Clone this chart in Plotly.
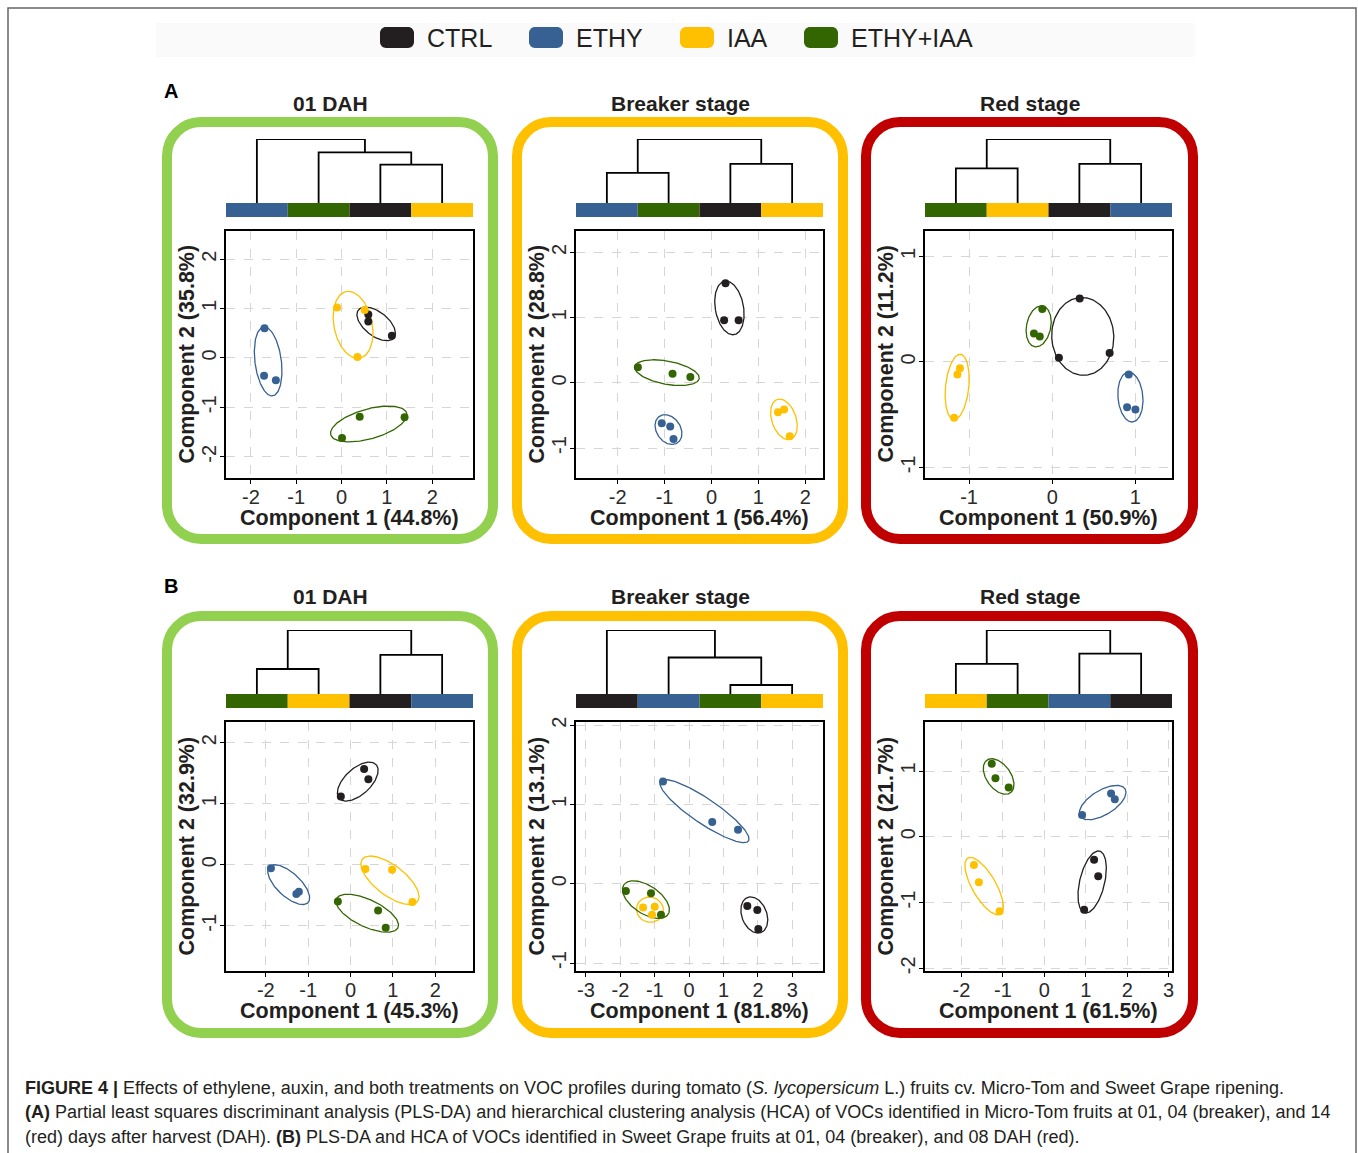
import numpy as np
import plotly.graph_objects as go

W, H = 1358, 1153
FONT = "Liberation Sans, Arial, sans-serif"

GROUPS = ["CTRL", "ETHY", "IAA", "ETHY+IAA"]
GROUP_COLORS = ["#231F20", "#386193", "#FFC000", "#336600"]
COL = dict(zip(GROUPS, GROUP_COLORS))

# ---------------- PLS-DA scores (Component 1 / Component 2) ----------------
A1_PC1 = {"CTRL": [0.59, 0.59, 1.11], "ETHY": [-1.70, -1.71, -1.45], "IAA": [-0.10, 0.51, 0.35], "ETHY+IAA": [0.01, 0.40, 1.39]}
A1_PC2 = {"CTRL": [0.88, 0.74, 0.45], "ETHY": [0.60, -0.36, -0.45], "IAA": [1.02, 0.97, 0.02], "ETHY+IAA": [-1.62, -1.19, -1.20]}

A2_PC1 = {"CTRL": [0.30, 0.27, 0.58], "ETHY": [-1.06, -0.88, -0.81], "IAA": [1.42, 1.55, 1.67], "ETHY+IAA": [-1.57, -0.83, -0.45]}
A2_PC2 = {"CTRL": [1.53, 0.96, 0.96], "ETHY": [-0.62, -0.67, -0.86], "IAA": [-0.45, -0.41, -0.82], "ETHY+IAA": [0.24, 0.14, 0.09]}

A3_PC1 = {"CTRL": [0.33, 0.08, 0.69], "ETHY": [0.92, 0.90, 1.00], "IAA": [-1.11, -1.14, -1.18], "ETHY+IAA": [-0.12, -0.22, -0.15]}
A3_PC2 = {"CTRL": [0.60, 0.04, 0.085], "ETHY": [-0.12, -0.43, -0.45], "IAA": [-0.06, -0.12, -0.53], "ETHY+IAA": [0.50, 0.27, 0.24]}

B1_PC1 = {"CTRL": [-0.23, 0.32, 0.42], "ETHY": [-1.88, -1.28, -1.22], "IAA": [0.35, 0.98, 1.46], "ETHY+IAA": [-0.30, 0.65, 0.83]}
B1_PC2 = {"CTRL": [1.12, 1.57, 1.40], "ETHY": [-0.055, -0.48, -0.44], "IAA": [-0.07, -0.08, -0.61], "ETHY+IAA": [-0.60, -0.75, -1.03]}

B2_PC1 = {"CTRL": [1.69, 1.98, 2.01], "ETHY": [-0.76, 0.67, 1.42], "IAA": [-1.34, -1.00, -1.08], "ETHY+IAA": [-1.84, -1.11, -0.82]}
B2_PC2 = {"CTRL": [-0.28, -0.33, -0.57], "ETHY": [1.29, 0.78, 0.68], "IAA": [-0.30, -0.29, -0.39], "ETHY+IAA": [-0.09, -0.12, -0.39]}

B3_PC1 = {"CTRL": [1.20, 1.30, 0.96], "ETHY": [0.91, 1.61, 1.70], "IAA": [-1.70, -1.58, -1.08], "ETHY+IAA": [-1.27, -1.18, -0.86]}
B3_PC2 = {"CTRL": [-0.35, -0.60, -1.11], "ETHY": [0.33, 0.66, 0.57], "IAA": [-0.43, -0.69, -1.13], "ETHY+IAA": [1.11, 0.89, 0.75]}

# explained variance (%)
PC1_VAR = {"A1": 44.8, "A2": 56.4, "A3": 50.9, "B1": 45.3, "B2": 81.8, "B3": 61.5}
PC2_VAR = {"A1": 35.8, "A2": 28.8, "A3": 11.2, "B1": 32.9, "B2": 13.1, "B3": 21.7}

# ---------------- HCA dendrograms (leaf order + merges: i, j, height) -------
A1_LEAVES = ["ETHY", "ETHY+IAA", "CTRL", "IAA"]
A1_MERGES = [(2, 3, 0.60), (1, 4, 0.79), (0, 5, 1.0)]
A2_LEAVES = ["ETHY", "ETHY+IAA", "CTRL", "IAA"]
A2_MERGES = [(0, 1, 0.47), (2, 3, 0.61), (4, 5, 1.0)]
A3_LEAVES = ["ETHY+IAA", "IAA", "CTRL", "ETHY"]
A3_MERGES = [(0, 1, 0.54), (2, 3, 0.61), (4, 5, 1.0)]
B1_LEAVES = ["ETHY+IAA", "IAA", "CTRL", "ETHY"]
B1_MERGES = [(0, 1, 0.39), (2, 3, 0.61), (4, 5, 1.0)]
B2_LEAVES = ["CTRL", "ETHY", "ETHY+IAA", "IAA"]
B2_MERGES = [(2, 3, 0.14), (1, 4, 0.57), (0, 5, 1.0)]
B3_LEAVES = ["IAA", "ETHY+IAA", "ETHY", "CTRL"]
B3_MERGES = [(0, 1, 0.47), (2, 3, 0.63), (4, 5, 1.0)]

STAGE_TITLES = ["01 DAH", "Breaker stage", "Red stage"]
STAGE_BORDER = ["#92D050", "#FFC000", "#C00000"]

# ---------------- layout (pixels) ----------------
PLOT_L = [226, 576, 925]
PLOT_W = 247
ROWS = {
    "A": dict(plot=(231, 478), dendro=(139, 217), border=(122, 539), title=103, xtitle=518, letter=91),
    "B": dict(plot=(722, 971), dendro=(630, 708), border=(616, 1033), title=596, xtitle=1011, letter=586),
}
BORDER_X = [(167, 493), (517, 843), (866, 1193)]

PANELS = [
    ("A", 0, "A1", A1_PC1, A1_PC2, A1_LEAVES, A1_MERGES, [-2.55, 2.90], [-2.43, 2.57], [-2, -1, 0, 1, 2], [-2, -1, 0, 1, 2]),
    ("A", 1, "A2", A2_PC1, A2_PC2, A2_LEAVES, A2_MERGES, [-2.89, 2.38], [-1.46, 2.33], [-2, -1, 0, 1, 2], [-1, 0, 1, 2]),
    ("A", 2, "A3", A3_PC1, A3_PC2, A3_LEAVES, A3_MERGES, [-1.53, 1.44], [-1.10, 1.24], [-1, 0, 1], [-1, 0, 1]),
    ("B", 0, "B1", B1_PC1, B1_PC2, B1_LEAVES, B1_MERGES, [-2.94, 2.89], [-1.74, 2.34], [-2, -1, 0, 1, 2], [-1, 0, 1, 2]),
    ("B", 1, "B2", B2_PC1, B2_PC2, B2_LEAVES, B2_MERGES, [-3.29, 3.89], [-1.10, 2.04], [-3, -2, -1, 0, 1, 2, 3], [-1, 0, 1, 2]),
    ("B", 2, "B3", B3_PC1, B3_PC2, B3_LEAVES, B3_MERGES, [-2.88, 3.08], [-2.04, 1.745], [-2, -1, 0, 1, 2, 3], [-2, -1, 0, 1]),
]

BAR_H = 0.22


def px(x):
    return x / W


def py(y):
    return 1 - y / H


def ellipse(xs, ys, sx, sy, k=1.13, pad=105.0, n=160):
    X = np.asarray(xs) * sx
    Y = np.asarray(ys) * sy
    cov = np.cov(np.vstack([X, Y])) + pad * np.eye(2)
    vals, vecs = np.linalg.eigh(cov)
    t = np.linspace(0, 2 * np.pi, n)
    circ = np.vstack([np.cos(t), np.sin(t)])
    pts = k * (vecs @ (np.sqrt(vals)[:, None] * circ))
    return (pts[0] + X.mean()) / sx, (pts[1] + Y.mean()) / sy


def dendro_lines(merges):
    pos = {i: (i + 0.5, 0.0) for i in range(4)}
    xs, ys = [], []
    nid = 4
    for a, b, h in merges:
        xa, ha = pos[a]
        xb, hb = pos[b]
        xs += [xa, xa, xb, xb, None]
        ys += [ha, h, h, hb, None]
        pos[nid] = ((xa + xb) / 2, h)
        nid += 1
    return xs, ys


def rrect_path(x0, y0, x1, y1, r):
    c = 0.5523 * r
    P = lambda x, y: f"{px(x):.5f},{py(y):.5f}"
    pts = [
        "M " + P(x0 + r, y0),
        "L " + P(x1 - r, y0),
        "C " + P(x1 - r + c, y0) + " " + P(x1, y0 + r - c) + " " + P(x1, y0 + r),
        "L " + P(x1, y1 - r),
        "C " + P(x1, y1 - r + c) + " " + P(x1 - r + c, y1) + " " + P(x1 - r, y1),
        "L " + P(x0 + r, y1),
        "C " + P(x0 + r - c, y1) + " " + P(x0, y1 - r + c) + " " + P(x0, y1 - r),
        "L " + P(x0, y0 + r),
        "C " + P(x0, y0 + r - c) + " " + P(x0 + r - c, y0) + " " + P(x0 + r, y0),
        "Z",
    ]
    return " ".join(pts)


fig = go.Figure()
layout = dict(
    width=W, height=H, margin=dict(l=0, r=0, t=0, b=0, pad=0), autosize=False,
    paper_bgcolor="white", plot_bgcolor="white", showlegend=False,
    font=dict(family=FONT, color="#231F20"),
)
shapes, annotations = [], []

# outer frame + faint legend band
shapes.append(dict(type="rect", xref="paper", yref="paper", x0=px(8), x1=px(1356), y0=py(1200), y1=py(8),
                   line=dict(color="#666666", width=1.5), fillcolor="rgba(0,0,0,0)", layer="below"))
shapes.append(dict(type="rect", xref="paper", yref="paper", x0=px(156), x1=px(1195), y0=py(57), y1=py(23),
                   line=dict(width=0), fillcolor="#FAFAFA", layer="below"))

TITLE_SIZE = 21.5

for idx, (row, col, key, pc1, pc2, leaves, merges, xr, yr, xt, yt) in enumerate(PANELS):
    R = ROWS[row]
    sidx = idx + 1
    didx = idx + 7
    xl = PLOT_L[col]
    xrr = xl + PLOT_W
    pt, pb = R["plot"]
    dt, db = R["dendro"]
    sx = PLOT_W / (xr[1] - xr[0])
    sy = (pb - pt) / (yr[1] - yr[0])

    xa = "x" if sidx == 1 else f"x{sidx}"
    ya = "y" if sidx == 1 else f"y{sidx}"
    axis_common = dict(showline=True, mirror=True, linecolor="black", linewidth=1.5,
                       ticks="outside", ticklen=4, tickwidth=1, tickcolor="black",
                       showgrid=True, gridcolor="#D6D6D6", griddash="dash", gridwidth=1,
                       zeroline=False, fixedrange=True, automargin=False,
                       tickfont=dict(family=FONT, size=20, color="#2b2b2b"))
    layout[f"xaxis{sidx}"] = dict(domain=[px(xl), px(xrr)], range=xr, tickvals=xt,
                                  ticktext=[str(v) for v in xt], ticklabelstandoff=-4,
                                  anchor=ya, **axis_common)
    layout[f"yaxis{sidx}"] = dict(domain=[py(pb), py(pt)], range=yr, tickvals=yt,
                                  ticktext=[str(v) for v in yt], tickangle=-90, ticklabelstandoff=-4,
                                  anchor=xa, **axis_common)

    # ellipses then points
    for g in GROUPS:
        ex, ey = ellipse(pc1[g], pc2[g], sx, sy)
        fig.add_trace(go.Scatter(x=ex, y=ey, mode="lines", xaxis=xa, yaxis=ya,
                                 line=dict(color=COL[g], width=1.3), hoverinfo="skip"))
    for g in GROUPS:
        fig.add_trace(go.Scatter(x=pc1[g], y=pc2[g], mode="markers", xaxis=xa, yaxis=ya, name=g,
                                 marker=dict(color=COL[g], size=8, line=dict(width=0))))

    # dendrogram axes
    dxa, dya = f"x{didx}", f"y{didx}"
    layout[f"xaxis{didx}"] = dict(domain=[px(xl), px(xrr)], range=[0, 4], visible=False, fixedrange=True, anchor=dya)
    layout[f"yaxis{didx}"] = dict(domain=[py(db), py(dt)], range=[-BAR_H, 1.0], visible=False, fixedrange=True, anchor=dxa)
    fig.add_trace(go.Bar(x=[i + 0.5 for i in range(4)], y=[BAR_H] * 4, base=[-BAR_H] * 4, width=[1] * 4,
                         marker=dict(color=[COL[g] for g in leaves], line=dict(width=0)),
                         xaxis=dxa, yaxis=dya, hoverinfo="skip"))
    lx, ly = dendro_lines(merges)
    fig.add_trace(go.Scatter(x=lx, y=ly, mode="lines", xaxis=dxa, yaxis=dya, cliponaxis=False,
                             line=dict(color="black", width=1.8), hoverinfo="skip"))

    # rounded border
    bx0, bx1 = BORDER_X[col]
    by0, by1 = R["border"]
    shapes.append(dict(type="path", xref="paper", yref="paper", path=rrect_path(bx0, by0, bx1, by1, 34),
                       line=dict(color=STAGE_BORDER[col], width=10), fillcolor="rgba(0,0,0,0)", layer="below"))

    # stage title
    annotations.append(dict(x=px((bx0 + bx1) / 2), y=py(R["title"]), xref="paper", yref="paper",
                            text=f"<b>{STAGE_TITLES[col]}</b>", showarrow=False,
                            font=dict(size=21, family=FONT, color="#231F20"), xanchor="center", yanchor="middle"))
    # axis titles
    annotations.append(dict(x=px((xl + xrr) / 2), y=py(R["xtitle"]), xref="paper", yref="paper",
                            text=f"<b>Component 1 ({PC1_VAR[key]}%)</b>", showarrow=False,
                            font=dict(size=TITLE_SIZE, family=FONT, color="#231F20"), xanchor="center", yanchor="middle"))
    annotations.append(dict(x=px(xl - 40), y=py((pt + pb) / 2), xref="paper", yref="paper",
                            text=f"<b>Component 2 ({PC2_VAR[key]}%)</b>", showarrow=False, textangle=-90,
                            font=dict(size=TITLE_SIZE, family=FONT, color="#231F20"), xanchor="center", yanchor="middle"))

# panel letters
for row in ["A", "B"]:
    annotations.append(dict(x=px(171), y=py(ROWS[row]["letter"]), xref="paper", yref="paper",
                            text=f"<b>{row}</b>", showarrow=False,
                            font=dict(size=20, family=FONT, color="black"), xanchor="center", yanchor="middle"))

# legend (custom)
LEG_BOX_X = [380, 529, 680, 804]
for g, bx in zip(GROUPS, LEG_BOX_X):
    shapes.append(dict(type="path", xref="paper", yref="paper", path=rrect_path(bx, 27, bx + 34, 48, 6),
                       line=dict(width=0), fillcolor=COL[g]))
    annotations.append(dict(x=px(bx + 45), y=py(38), xref="paper", yref="paper", text=g, showarrow=False,
                            font=dict(size=25, family=FONT, color="#231F20"), xanchor="left", yanchor="middle"))

# caption
CAPTION = [
    "<b>FIGURE 4 |</b> Effects of ethylene, auxin, and both treatments on VOC profiles during tomato (<i>S. lycopersicum</i> L.) fruits cv. Micro-Tom and Sweet Grape ripening.",
    "<b>(A)</b> Partial least squares discriminant analysis (PLS-DA) and hierarchical clustering analysis (HCA) of VOCs identified in Micro-Tom fruits at 01, 04 (breaker), and 14",
    "(red) days after harvest (DAH). <b>(B)</b> PLS-DA and HCA of VOCs identified in Sweet Grape fruits at 01, 04 (breaker), and 08 DAH (red).",
]
for line, yy in zip(CAPTION, [1088, 1112, 1137]):
    annotations.append(dict(x=px(23), y=py(yy), xref="paper", yref="paper", text=line, showarrow=False,
                            font=dict(size=18, family=FONT, color="#231F20"), xanchor="left", yanchor="middle"))

layout["shapes"] = shapes
layout["annotations"] = annotations
fig.update_layout(**layout)

POST = ("document.documentElement.style.margin='0';document.body.style.margin='0';"
        "document.documentElement.style.overflow='hidden';document.body.style.overflow='hidden';"
        "var d=document.getElementById('{plot_id}');d.style.position='absolute';d.style.left='0px';d.style.top='0px';")
fig.write_html("out.html", config={"displayModeBar": False}, post_script=POST)
